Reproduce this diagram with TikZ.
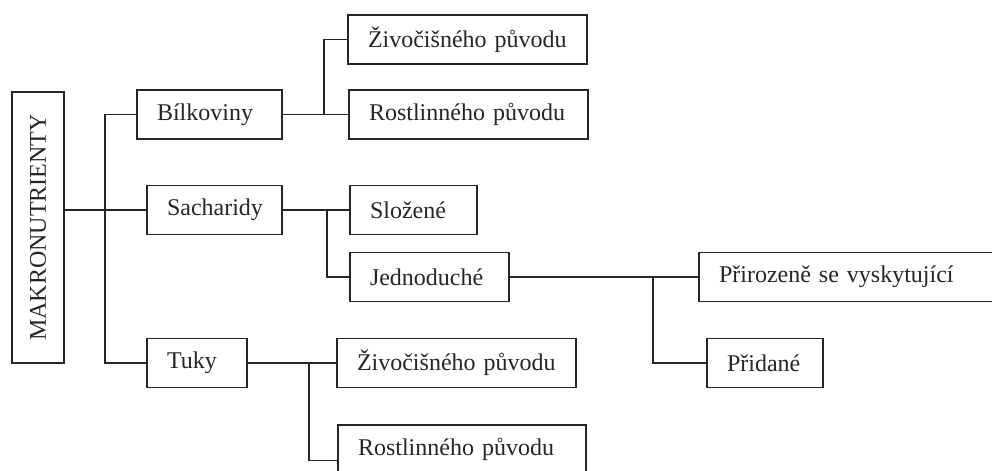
\documentclass[tikz,border=0pt]{standalone}
\usepackage{fontspec}
\setmainfont{Liberation Serif}
\usepackage{graphicx}
\tikzset{
  box/.style={draw=black!85, line width=0.75pt, inner xsep=10pt, inner ysep=0pt,
    minimum height=24.5pt, align=left, font=\fontsize{12}{14}\selectfont, text=black!85},
  conn/.style={draw=black!85, line width=0.75pt}
}
\begin{document}
\begin{tikzpicture}[x=0.5pt,y=-0.5pt]
\useasboundingbox (0,0) rectangle (992,471);
\clip (0,0) rectangle (992,471);
\fill[white] (0,0) rectangle (992,471);
% root
\node[draw=black!85, line width=0.75pt, inner sep=0pt, minimum width=26pt, minimum height=135.5pt,
  font=\fontsize{12}{14}\selectfont, text=black!85] (mak) at (38,227.5) {\rotatebox{90}{MAKRONUTRIENTY}};
% level 1
\node[box, text width=52.5pt] (bil) at (209.5,114.5) {Bílkoviny};
\node[box, text width=47.5pt] (sach) at (214.5,210) {Sacharidy};
\node[box, text width=30pt] (tuk) at (197,363) {Tuky};
% level 2
\node[box, text width=99.5pt] (zv1) at (467.5,39.5) {Živočišného původu};
\node[box, text width=99.5pt] (rv1) at (468.5,114.5) {Rostlinného původu};
\node[box, text width=43.5pt] (sl) at (413.5,210) {Složené};
\node[box, text width=59.5pt] (jed) at (429.5,277) {Jednoduché};
\node[box, text width=99.5pt] (zv2) at (456.5,363) {Živočišného původu};
\node[box, text width=104pt] (rv2) at (462,449.5) {Rostlinného původu};
% level 3
\node[box, text width=140.5pt] (pri) at (859.5,277) {Přirozeně se vyskytující};
\node[box, text width=38pt] (pid) at (765,363) {Přidané};
% junction coordinates
\coordinate (trk) at (105,210);
\coordinate (b1) at (324,114.5);
\coordinate (s1) at (327,210);
\coordinate (j1) at (653,277);
\coordinate (t1) at (309,363);
\coordinate (rv2in) at ([yshift=-5.5pt]rv2.west);
% connectors
\draw[conn] (mak.east |- sach.west) -- (sach.west);
\draw[conn] (bil.west) -| (trk) |- (tuk.west);
\draw[conn] (bil.east) -- (rv1.west);
\draw[conn] (zv1.west) -| (b1);
\draw[conn] (sach.east) -- (sl.west);
\draw[conn] (s1) |- (jed.west);
\draw[conn] (jed.east) -- (pri.west);
\draw[conn] (j1) |- (pid.west);
\draw[conn] (tuk.east) -- (zv2.west);
\draw[conn] (t1) |- (rv2in);
\end{tikzpicture}
\end{document}
